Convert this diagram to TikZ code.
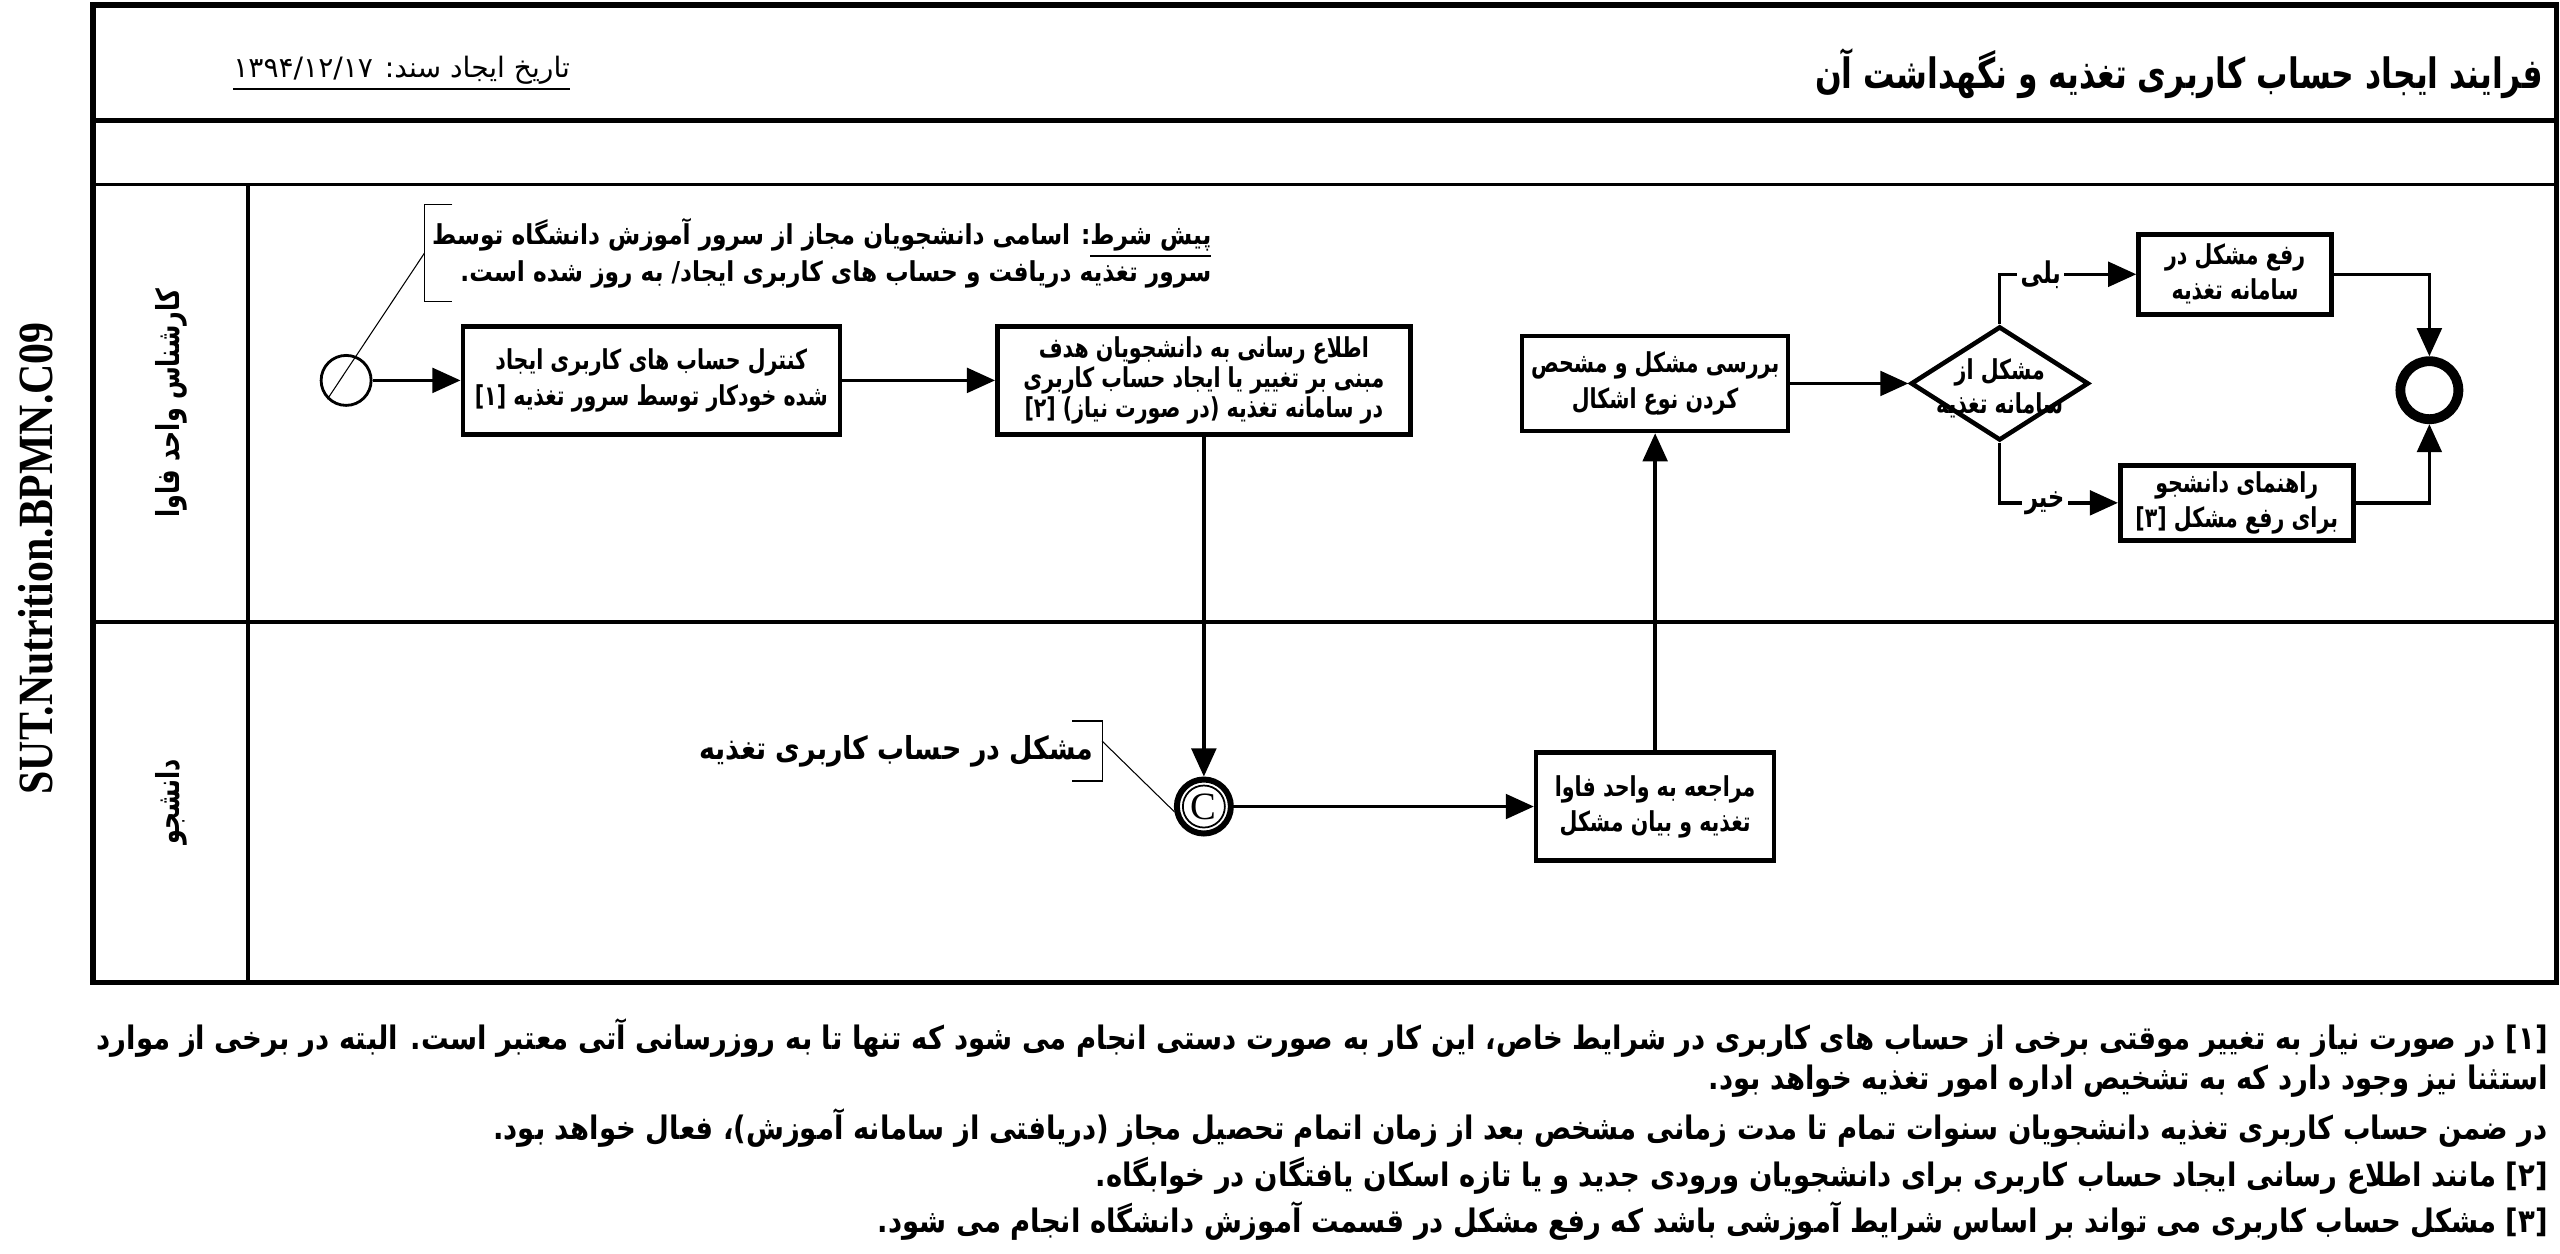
\documentclass[tikz,border=0pt]{standalone}
\usepackage{fontspec}
\usepackage{graphicx}
\usepackage{tikz}
\usetikzlibrary{shapes,arrows,arrows.meta,positioning,calc}
\TeXXeTstate=1
\newfontfamily\farsi[Script=Arabic]{DejaVu Sans}
\newfontfamily\farsicond[Script=Arabic, FakeStretch=0.85]{DejaVu Sans}
\newfontfamily\farsinarrow[Script=Arabic, FakeStretch=0.75]{DejaVu Sans}
\newfontfamily\timesfont{Liberation Serif}
\newfontfamily\codefont[FakeStretch=0.85]{Liberation Serif}
\newcommand{\fa}[1]{\beginR #1\endR}

\begin{document}
\begin{tikzpicture}[x=0.016327cm, y=-0.016327cm, node distance=1cm]
    \tikzset{task/.style={rectangle, draw, line width=1.3pt, fill=white, align=center, inner sep=1pt, font=\farsinarrow\bfseries\fontsize{7.8pt}{10pt}\selectfont}}
    \tikzset{event/.style={circle, draw, fill=white, inner sep=0pt}}
    \tikzset{gate/.style={diamond, draw, line width=1.3pt, fill=white, inner sep=0pt, minimum width=1.78cm, minimum height=1.14cm}}
    \tikzset{gtext/.style={align=center, inner sep=0pt, font=\farsinarrow\bfseries\fontsize{7.8pt}{9.6pt}\selectfont}}
    \tikzset{note/.style={align=right, inner sep=2pt, font=\farsicond\bfseries\fontsize{7.8pt}{10.5pt}\selectfont}}
    \tikzset{annot/.style={inner sep=0pt, font=\farsicond\bfseries\fontsize{9pt}{10.5pt}\selectfont}}
    \tikzset{foot/.style={anchor=east, inner sep=0pt, font=\farsicond\bfseries\fontsize{9.2pt}{10pt}\selectfont}}
    \tikzset{branch/.style={fill=white, inner sep=1pt, font=\farsinarrow\bfseries\fontsize{8.5pt}{9pt}\selectfont}}
    \tikzset{arrow/.style={-{Triangle[length=8pt, width=7pt]}, line width=1pt}}
    \tikzset{assoc/.style={line width=0.3pt}}
    \tikzset{lane/.style={line width=1pt}}
    \tikzset{outline/.style={line width=1.5pt}}

    \useasboundingbox (0,0) rectangle (1568,768);

    % Frame and lanes
    \draw[outline] (57,3) rectangle (1566,602);
    \draw[outline] (57,74) -- (1566,74);
    \draw[lane] (57,113) -- (1566,113);
    \draw[lane] (57,381) -- (1566,381);
    \draw[lane] (152,113) -- (152,602);

    % Header
    \node[anchor=east, inner sep=0pt, font=\farsinarrow\bfseries\fontsize{11.9pt}{13pt}\selectfont] (title) at (1558,45) {\fa{فرایند ایجاد حساب کاربری تغذیه و نگهداشت آن}};
    \node[font=\farsi\fontsize{8pt}{9pt}\selectfont] (date) at (246,45) {\underline{\fa{تاریخ ایجاد سند: \beginL۱۳۹۴/۱۲/۱۷\endL}}};
    \node[rotate=90, font=\codefont\bfseries\fontsize{14pt}{16pt}\selectfont] (code) at (22,342) {SUT.Nutrition.BPMN.C09};
    \node[rotate=90, font=\farsinarrow\bfseries\fontsize{9pt}{10pt}\selectfont] (lanefava) at (105,247) {\fa{کارشناس واحد فاوا}};
    \node[rotate=90, font=\farsinarrow\bfseries\fontsize{9pt}{10pt}\selectfont] (lanestudent) at (105,491) {\fa{دانشجو}};

    % Lane 1
    \node[event, line width=0.8pt, minimum size=0.5cm] (start) at (212,233) {};
    \node[task, right=0.88cm of start, minimum width=3.77cm, minimum height=1.08cm] (check) {\fa{کنترل حساب های کاربری ایجاد}\\ \fa{شده خودکار توسط سرور تغذیه [۱]}};
    \node[task, right=1.53cm of check, minimum width=4.13cm, minimum height=1.08cm, font=\farsinarrow\bfseries\fontsize{7.8pt}{8.6pt}\selectfont] (inform) {\fa{اطلاع رسانی به دانشجویان هدف}\\ \fa{مبنی بر تغییر یا ایجاد حساب کاربری}\\ \fa{در سامانه تغذیه (در صورت نیاز) [۲]}};

    % Lane 2
    \coordinate (row2) at (0,494);
    \node[event, line width=1.7pt, minimum size=0.54cm, font=\timesfont\fontsize{11pt}{12pt}\selectfont] (cond) at (inform |- row2) {C};
    \draw[line width=0.5pt] (cond.center) circle (0.21cm);
    \node[task, right=3.0cm of cond, minimum width=2.38cm, minimum height=1.08cm] (visit) {\fa{مراجعه به واحد فاوا}\\ \fa{تغذیه و بیان مشکل}};

    % Back in lane 1
    \node[task, above=3.17cm of visit, minimum width=2.66cm, minimum height=0.95cm] (review) {\fa{بررسی مشکل و مشحص}\\ \fa{کردن نوع اشکال}};
    \node[gate, right=1.18cm of review] (problem) {};
    \node[gtext] (problemtext) at ([yshift=-0.05cm]problem.center) {\fa{مشکل از}\\ \fa{سامانه تغذیه}};
    \node[task, minimum width=1.93cm, minimum height=0.80cm] (fix) at (1369,168) {\fa{رفع مشکل در}\\ \fa{سامانه تغذیه}};
    \node[task, minimum width=2.33cm, minimum height=0.75cm] (guide) at (1370,308) {\fa{راهنمای دانشجو}\\ \fa{برای رفع مشکل [۳]}};
    \node[event, line width=2.8pt, minimum size=0.58cm] (end) at (1488,239) {};

    % Arrows
    \draw[arrow] (start) -- (check);
    \draw[arrow] (check) -- (inform);
    \draw[arrow] (inform) -- (cond);
    \draw[arrow] (cond) -- (visit);
    \draw[arrow] (visit) -- (review);
    \draw[arrow] (review) -- (problem);
    \draw[arrow] (problem.north) |- node[branch, pos=0.65] {\fa{بلی}} (fix.west);
    \draw[arrow] (problem.south) |- node[branch, pos=0.69] {\fa{خیر}} (guide.west);
    \draw[arrow] (fix.east) -| (end.north);
    \draw[arrow] (guide.east) -| (end.south);

    % Annotations
    \node[note, anchor=west, minimum height=0.95cm] (pre) at (260,155) {\fa{\underline{\fa{پیش شرط}}: اسامی دانشجویان مجاز از سرور آموزش دانشگاه توسط}\\ \fa{سرور تغذیه دریافت و حساب های کاربری ایجاد/ به روز شده است.}};
    \draw[assoc] ([xshift=0.28cm]pre.north west) -- (pre.north west) -- (pre.south west) -- ([xshift=0.28cm]pre.south west);
    \draw[assoc] (pre.west) -- (start.225);
    \coordinate (cbracket) at (675,460);
    \node[annot, left=0.08cm of cbracket] (cnote) {\fa{مشکل در حساب کاربری تغذیه}};
    \draw[assoc] ([xshift=-0.3cm, yshift=0.3cm]cbracket) -- ([yshift=0.3cm]cbracket) -- ([yshift=-0.3cm]cbracket) -- ([xshift=-0.3cm, yshift=-0.3cm]cbracket);
    \draw[assoc] ([yshift=0.1cm]cbracket) -- (cond.190);

    % Footnotes
    \node[foot] (fn1) at (1561,636) {\resizebox{24.51cm}{\height}{\fa{[۱] در صورت نیاز به تغییر موقتی برخی از حساب های کاربری در شرایط خاص، این کار به صورت دستی انجام می شود که تنها تا به روزرسانی آتی معتبر است. البته در برخی از موارد}}};
    \node[foot] (fn1b) at (1561,662) {\fa{استثنا نیز وجود دارد که به تشخیص اداره امور تغذیه خواهد بود.}};
    \node[foot] (fn1c) at (1561,691) {\fa{در ضمن حساب کاربری تغذیه دانشجویان سنوات تمام تا مدت زمانی مشخص بعد از زمان اتمام تحصیل مجاز (دریافتی از سامانه آموزش)، فعال خواهد بود.}};
    \node[foot] (fn2) at (1561,720) {\fa{[۲] مانند اطلاع رسانی ایجاد حساب کاربری برای دانشجویان ورودی جدید و یا تازه اسکان یافتگان در خوابگاه.}};
    \node[foot] (fn3) at (1561,748) {\fa{[۳] مشکل حساب کاربری می تواند بر اساس شرایط آموزشی باشد که رفع مشکل در قسمت آموزش دانشگاه انجام می شود.}};
\end{tikzpicture}
\end{document}
